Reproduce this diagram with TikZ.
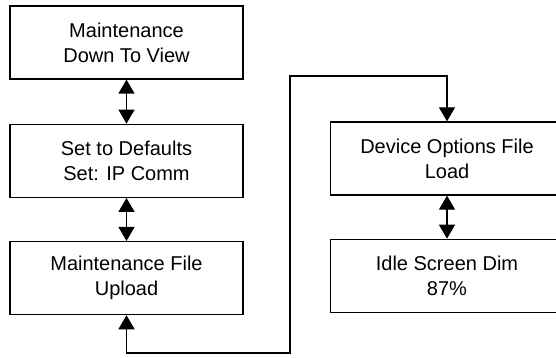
\documentclass[tikz,border=0pt]{standalone}
\usepackage{fontspec}
\setmainfont{Liberation Sans}
\usepackage{tikz}
\usetikzlibrary{arrows.meta}
\usetikzlibrary{positioning}
\tikzset{menubox/.style = {draw, line width = 1.3pt, align = center, minimum width = 233pt, minimum height = 73pt, inner sep = 0, font = \fontsize{20}{25}\selectfont}}
\tikzset{link/.style = {line width = 1.3pt, {Triangle[width = 16pt, length = 14pt]}-{Triangle[width = 16pt, length = 14pt]}}}

\begin{document}
\begin{tikzpicture}[x = 1pt, y = -1pt]
      \useasboundingbox (0, 0) rectangle (556, 358);
      \node [menubox] (maint) at (126.5, 42.5) {Maintenance\\Down To View};
      \node [menubox, below = 44pt of maint] (defaults) {Set to Defaults\\Set: IP Comm};
      \node [menubox, below = 43pt of defaults] (upload) {Maintenance File\\Upload};
      \node [menubox] (options) at (447, 158.5) {Device Options File\\Load};
      \node [menubox, below = 43pt of options] (dim) {Idle Screen Dim\\87\%};
      \coordinate (low) at (290, 353);
      \coordinate (high) at (290, 76);
      \draw [link] (maint) -- (defaults);
      \draw [link] (defaults) -- (upload);
      \draw [link] (options) -- (dim);
      \draw [link] (upload.south) |- (low) -- (high) -| (options.north);
    \end{tikzpicture}
\end{document}
